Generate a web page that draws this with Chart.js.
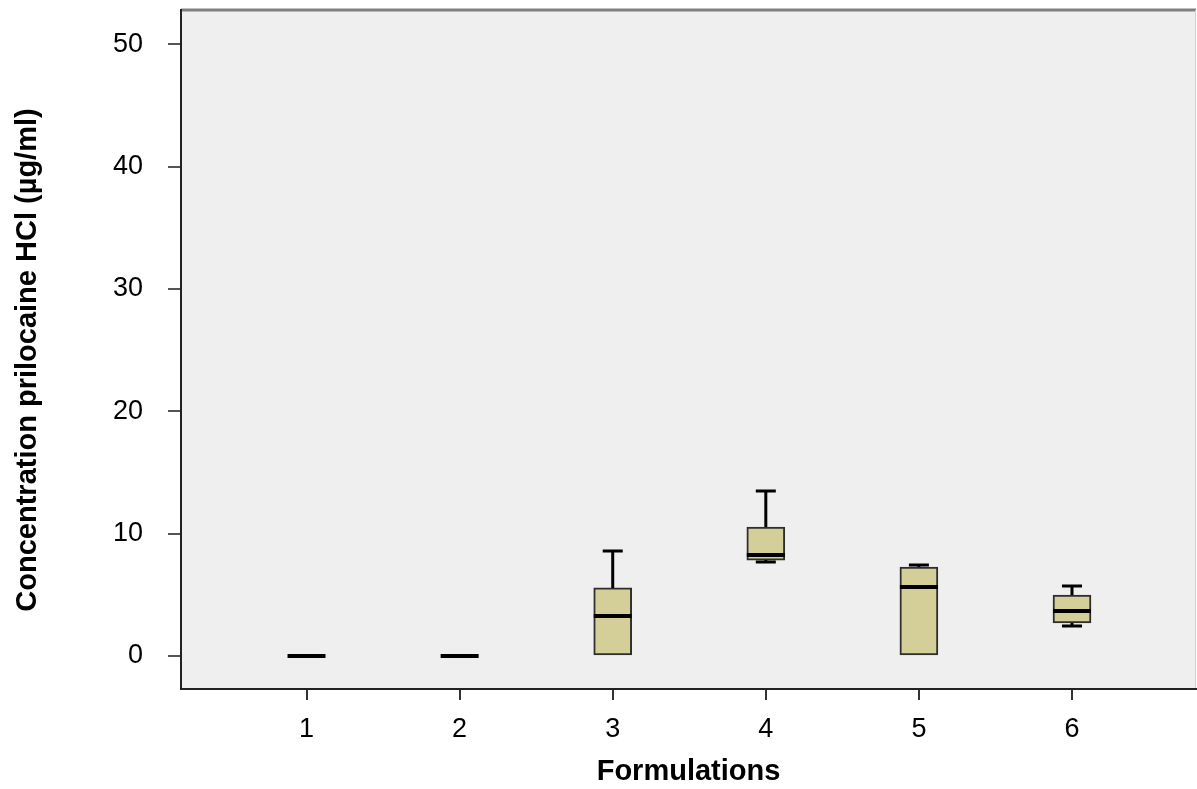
<!DOCTYPE html>
<html>
<head>
<meta charset="utf-8">
<script src="https://cdn.jsdelivr.net/npm/chart.js@4.4.1/dist/chart.umd.min.js"></script>
<style>
  html, body { margin: 0; padding: 0; background: #ffffff; }
  #wrap { width: 1197px; height: 789px; }
</style>
</head>
<body>
<div id="wrap"><canvas id="c" width="1197" height="789"></canvas></div>
<script>
// Box plot summary per formulation (µg/ml)
const formulations = [1, 2, 3, 4, 5, 6];
const whiskerLow  = [0, 0, 0,    7.68, 0,    2.45];
const quartile1   = [0, 0, 0,    7.84, 0,    2.70];
const medians     = [0, 0, 3.27, 8.25, 5.64, 3.68];
const quartile3   = [0, 0, 5.56, 10.54, 7.27, 4.98];
const whiskerHigh = [0, 0, 8.58, 13.48, 7.43, 5.72];
const yTickValues = [0, 10, 20, 30, 40, 50];
const yTitle = 'Concentration prilocaine HCl (µg/ml)';

const FONT = "'Liberation Sans', Arial, sans-serif";

// Plot background and frame
const frame = {
  id: 'frame',
  beforeDraw(chart) {
    const { ctx, chartArea: a } = chart;
    ctx.save();
    ctx.fillStyle = '#efefef';
    ctx.fillRect(a.left, a.top, a.right - a.left, a.bottom - a.top);
    ctx.strokeStyle = '#808080';
    ctx.lineWidth = 3;
    ctx.beginPath();
    ctx.moveTo(a.left, a.top);
    ctx.lineTo(a.right, a.top);
    ctx.stroke();
    ctx.strokeStyle = '#d0d0d0';
    ctx.lineWidth = 1;
    ctx.beginPath();
    ctx.moveTo(a.right - 0.5, a.top);
    ctx.lineTo(a.right - 0.5, a.bottom);
    ctx.stroke();
    ctx.restore();
  },
  afterDraw(chart) {
    // vertical axis title, rotated, slightly below the plot centre
    const { ctx } = chart;
    ctx.save();
    ctx.translate(28, 360);
    ctx.rotate(-Math.PI / 2);
    ctx.fillStyle = '#000000';
    ctx.font = "bold 29px " + FONT;
    ctx.textAlign = 'center';
    ctx.textBaseline = 'middle';
    ctx.fillText(yTitle, 0, 0);
    ctx.restore();
  }
};

// Whiskers, caps and median lines
const boxParts = {
  id: 'boxParts',
  afterDatasetsDraw(chart) {
    const { ctx, scales: { x, y } } = chart;
    const meta = chart.getDatasetMeta(0);
    ctx.save();
    ctx.strokeStyle = '#000000';
    ctx.lineCap = 'butt';
    formulations.forEach((f, i) => {
      const cx = x.getPixelForValue(f);
      const bw = meta.data[i].width;
      const capW = 20;
      ctx.lineWidth = 3;
      if (whiskerHigh[i] > quartile3[i]) {
        ctx.beginPath();
        ctx.moveTo(cx, y.getPixelForValue(quartile3[i]));
        ctx.lineTo(cx, y.getPixelForValue(whiskerHigh[i]));
        ctx.moveTo(cx - capW / 2, y.getPixelForValue(whiskerHigh[i]));
        ctx.lineTo(cx + capW / 2, y.getPixelForValue(whiskerHigh[i]));
        ctx.stroke();
      }
      if (whiskerLow[i] < quartile1[i]) {
        ctx.beginPath();
        ctx.moveTo(cx, y.getPixelForValue(quartile1[i]));
        ctx.lineTo(cx, y.getPixelForValue(whiskerLow[i]));
        ctx.moveTo(cx - capW / 2, y.getPixelForValue(whiskerLow[i]));
        ctx.lineTo(cx + capW / 2, y.getPixelForValue(whiskerLow[i]));
        ctx.stroke();
      }
      ctx.lineWidth = 4;
      ctx.beginPath();
      const my = y.getPixelForValue(medians[i]);
      ctx.moveTo(cx - bw / 2, my);
      ctx.lineTo(cx + bw / 2, my);
      ctx.stroke();
    });
    ctx.restore();
  }
};

new Chart(document.getElementById('c'), {
  type: 'bar',
  data: {
    datasets: [{
      data: formulations.map((f, i) => ({ x: f, y: [quartile1[i], quartile3[i]] })),
      backgroundColor: '#d4cf99',
      borderColor: '#2e2e2e',
      borderWidth: 2,
      borderSkipped: false,
      barThickness: 38
    }]
  },
  options: {
    responsive: false,
    animation: false,
    layout: { padding: { left: 0, top: 10, right: 1, bottom: 0 } },
    plugins: { legend: { display: false }, tooltip: { enabled: false } },
    scales: {
      x: {
        type: 'linear',
        offset: false,
        min: 0.18,
        max: 6.81,
        afterBuildTicks(s) { s.ticks = formulations.map(v => ({ value: v })); },
        afterFit(s) { s.height = 100; s.paddingLeft = 0; s.paddingRight = 0; },
        grid: { offset: false, drawOnChartArea: false, drawTicks: true, tickLength: 11, color: '#333333', lineWidth: 2 },
        border: { display: true, color: '#222222', width: 2 },
        ticks: { color: '#000000', font: { family: FONT, size: 27 }, padding: 13, maxRotation: 0 },
        title: { display: true, text: 'Formulations', color: '#000000', font: { family: FONT, size: 29, weight: 'bold' }, padding: { top: 5, bottom: 0 } }
      },
      y: {
        type: 'linear',
        min: -2.7,
        max: 52.8,
        afterBuildTicks(s) { s.ticks = yTickValues.map(v => ({ value: v })); },
        afterFit(s) { s.width = 181; s.paddingTop = 0; s.paddingBottom = 0; },
        grid: { drawOnChartArea: false, drawTicks: true, tickLength: 13, color: '#555555', lineWidth: 2 },
        border: { display: true, color: '#222222', width: 2 },
        ticks: { color: '#000000', font: { family: FONT, size: 27 }, padding: 25 },
        title: { display: false }
      }
    }
  },
  plugins: [frame, boxParts]
});
</script>
</body>
</html>
